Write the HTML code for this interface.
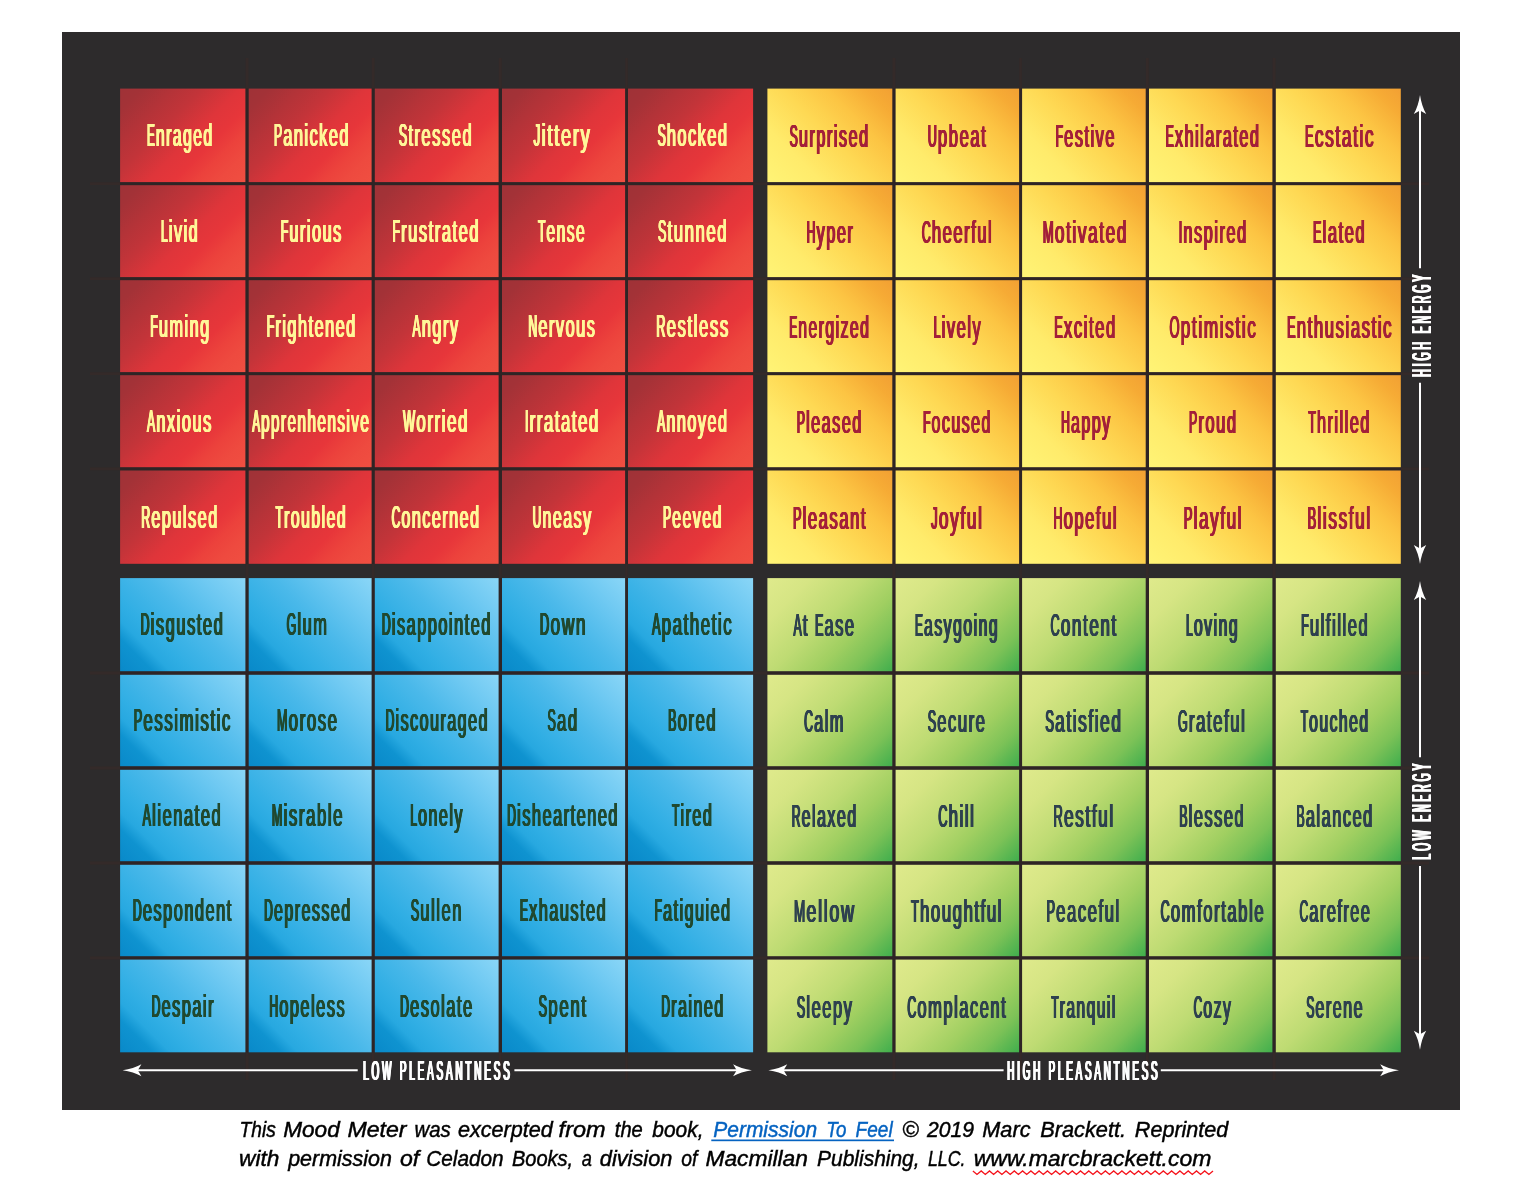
<!DOCTYPE html>
<html lang="en"><head><meta charset="utf-8"><title>Mood Meter</title>
<style>
html,body{margin:0;padding:0;background:#fff;}
body{width:1530px;height:1196px;position:relative;overflow:hidden;font-family:"Liberation Sans",sans-serif;}
svg{position:absolute;left:0;top:0;display:block;will-change:transform;}
text{font-family:"Liberation Sans",sans-serif;}
.cap{position:absolute;left:0;top:0;white-space:nowrap;font-style:italic;color:#000;will-change:transform;transform-origin:0 0;font-family:"Liberation Sans",sans-serif;-webkit-text-stroke:0.3px currentColor;}
.cap a{color:#0563c1;text-decoration:underline;text-underline-offset:3.2px;text-decoration-thickness:1.4px;}
</style></head><body>
<svg width="1530" height="1196" viewBox="0 0 1530 1196">
<defs>
<linearGradient id="gR" gradientUnits="userSpaceOnUse" x1="8" y1="-8" x2="117" y2="101"><stop offset="0" stop-color="#9f3237"/><stop offset="0.10" stop-color="#a33237"/><stop offset="0.38" stop-color="#c33439"/><stop offset="0.55" stop-color="#df353a"/><stop offset="0.67" stop-color="#e7363a"/><stop offset="0.77" stop-color="#ec423c"/><stop offset="0.87" stop-color="#ee4a3f"/><stop offset="1" stop-color="#f04f41"/></linearGradient>
<linearGradient id="gY" gradientUnits="userSpaceOnUse" x1="8" y1="101" x2="117" y2="-8"><stop offset="0" stop-color="#fff476"/><stop offset="0.25" stop-color="#ffeb6b"/><stop offset="0.5" stop-color="#fed853"/><stop offset="0.7" stop-color="#fcc443"/><stop offset="0.88" stop-color="#f6ab35"/><stop offset="1" stop-color="#f2a033"/></linearGradient>
<linearGradient id="gB" gradientUnits="userSpaceOnUse" x1="8" y1="101" x2="117" y2="-8"><stop offset="0" stop-color="#0989c9"/><stop offset="0.15" stop-color="#0f93d0"/><stop offset="0.23" stop-color="#27a8e0"/><stop offset="0.32" stop-color="#30aee4"/><stop offset="0.55" stop-color="#4bb9ea"/><stop offset="0.8" stop-color="#6fc9f2"/><stop offset="1" stop-color="#8ad6f7"/></linearGradient>
<linearGradient id="gG" gradientUnits="userSpaceOnUse" x1="8" y1="-8" x2="117" y2="101"><stop offset="0" stop-color="#dfea8c"/><stop offset="0.2" stop-color="#d6e584"/><stop offset="0.45" stop-color="#bedb73"/><stop offset="0.65" stop-color="#a0cf61"/><stop offset="0.82" stop-color="#7cc257"/><stop offset="1" stop-color="#40ae4d"/></linearGradient>
</defs>
<rect x="62" y="32" width="1398" height="1078" fill="#2d2b2c"/>
<g fill="#342a29">
<rect x="245.6" y="58" width="2.9" height="1022"/>
<rect x="371.8" y="58" width="2.8" height="1022"/>
<rect x="498.8" y="58" width="3.0" height="1022"/>
<rect x="625.3" y="58" width="2.5" height="1022"/>
<rect x="892.5" y="58" width="2.9" height="1022"/>
<rect x="1019.3" y="58" width="2.6" height="1022"/>
<rect x="1145.9" y="58" width="2.9" height="1022"/>
<rect x="1272.6" y="58" width="3.0" height="1022"/>
<rect x="90" y="182.3" width="1339" height="2.7"/>
<rect x="90" y="277.3" width="1339" height="2.7"/>
<rect x="90" y="372.3" width="1339" height="2.7"/>
<rect x="90" y="467.4" width="1339" height="2.9"/>
<rect x="90" y="671.4" width="1339" height="3.2"/>
<rect x="90" y="766.4" width="1339" height="3.2"/>
<rect x="90" y="861.4" width="1339" height="3.2"/>
<rect x="90" y="956.4" width="1339" height="3.0"/>
</g>
<g fill="#2e2425">
<rect x="245.4" y="88.6" width="3.3" height="475.2"/>
<rect x="120.1" y="182.1" width="633.0" height="3.1"/>
<rect x="371.6" y="88.6" width="3.2" height="475.2"/>
<rect x="120.1" y="277.1" width="633.0" height="3.1"/>
<rect x="498.6" y="88.6" width="3.4" height="475.2"/>
<rect x="120.1" y="372.1" width="633.0" height="3.1"/>
<rect x="625.1" y="88.6" width="2.9" height="475.2"/>
<rect x="120.1" y="467.2" width="633.0" height="3.3"/>
<rect x="245.4" y="578.1" width="3.3" height="474.2"/>
<rect x="120.1" y="671.2" width="633.0" height="3.6"/>
<rect x="371.6" y="578.1" width="3.2" height="474.2"/>
<rect x="120.1" y="766.2" width="633.0" height="3.6"/>
<rect x="498.6" y="578.1" width="3.4" height="474.2"/>
<rect x="120.1" y="861.2" width="633.0" height="3.6"/>
<rect x="625.1" y="578.1" width="2.9" height="474.2"/>
<rect x="120.1" y="956.2" width="633.0" height="3.4"/>
<rect x="892.3" y="88.6" width="3.3" height="475.2"/>
<rect x="767.4" y="182.1" width="633.4" height="3.1"/>
<rect x="1019.1" y="88.6" width="3.0" height="475.2"/>
<rect x="767.4" y="277.1" width="633.4" height="3.1"/>
<rect x="1145.7" y="88.6" width="3.3" height="475.2"/>
<rect x="767.4" y="372.1" width="633.4" height="3.1"/>
<rect x="1272.4" y="88.6" width="3.4" height="475.2"/>
<rect x="767.4" y="467.2" width="633.4" height="3.3"/>
<rect x="892.3" y="578.1" width="3.3" height="474.2"/>
<rect x="767.4" y="671.2" width="633.4" height="3.6"/>
<rect x="1019.1" y="578.1" width="3.0" height="474.2"/>
<rect x="767.4" y="766.2" width="633.4" height="3.6"/>
<rect x="1145.7" y="578.1" width="3.3" height="474.2"/>
<rect x="767.4" y="861.2" width="633.4" height="3.6"/>
<rect x="1272.4" y="578.1" width="3.4" height="474.2"/>
<rect x="767.4" y="956.2" width="633.4" height="3.4"/>
</g>
<g transform="translate(120.1,88.6) scale(1.0024,1.0054)"><rect width="125" height="93" fill="url(#gR)"/></g>
<g transform="translate(248.7,88.6) scale(0.9832,1.0054)"><rect width="125" height="93" fill="url(#gR)"/></g>
<g transform="translate(374.8,88.6) scale(0.9904,1.0054)"><rect width="125" height="93" fill="url(#gR)"/></g>
<g transform="translate(502.0,88.6) scale(0.9848,1.0054)"><rect width="125" height="93" fill="url(#gR)"/></g>
<g transform="translate(628.0,88.6) scale(1.0008,1.0054)"><rect width="125" height="93" fill="url(#gR)"/></g>
<g transform="translate(120.1,185.2) scale(1.0024,0.9882)"><rect width="125" height="93" fill="url(#gR)"/></g>
<g transform="translate(248.7,185.2) scale(0.9832,0.9882)"><rect width="125" height="93" fill="url(#gR)"/></g>
<g transform="translate(374.8,185.2) scale(0.9904,0.9882)"><rect width="125" height="93" fill="url(#gR)"/></g>
<g transform="translate(502.0,185.2) scale(0.9848,0.9882)"><rect width="125" height="93" fill="url(#gR)"/></g>
<g transform="translate(628.0,185.2) scale(1.0008,0.9882)"><rect width="125" height="93" fill="url(#gR)"/></g>
<g transform="translate(120.1,280.2) scale(1.0024,0.9882)"><rect width="125" height="93" fill="url(#gR)"/></g>
<g transform="translate(248.7,280.2) scale(0.9832,0.9882)"><rect width="125" height="93" fill="url(#gR)"/></g>
<g transform="translate(374.8,280.2) scale(0.9904,0.9882)"><rect width="125" height="93" fill="url(#gR)"/></g>
<g transform="translate(502.0,280.2) scale(0.9848,0.9882)"><rect width="125" height="93" fill="url(#gR)"/></g>
<g transform="translate(628.0,280.2) scale(1.0008,0.9882)"><rect width="125" height="93" fill="url(#gR)"/></g>
<g transform="translate(120.1,375.2) scale(1.0024,0.9892)"><rect width="125" height="93" fill="url(#gR)"/></g>
<g transform="translate(248.7,375.2) scale(0.9832,0.9892)"><rect width="125" height="93" fill="url(#gR)"/></g>
<g transform="translate(374.8,375.2) scale(0.9904,0.9892)"><rect width="125" height="93" fill="url(#gR)"/></g>
<g transform="translate(502.0,375.2) scale(0.9848,0.9892)"><rect width="125" height="93" fill="url(#gR)"/></g>
<g transform="translate(628.0,375.2) scale(1.0008,0.9892)"><rect width="125" height="93" fill="url(#gR)"/></g>
<g transform="translate(120.1,470.5) scale(1.0024,1.0032)"><rect width="125" height="93" fill="url(#gR)"/></g>
<g transform="translate(248.7,470.5) scale(0.9832,1.0032)"><rect width="125" height="93" fill="url(#gR)"/></g>
<g transform="translate(374.8,470.5) scale(0.9904,1.0032)"><rect width="125" height="93" fill="url(#gR)"/></g>
<g transform="translate(502.0,470.5) scale(0.9848,1.0032)"><rect width="125" height="93" fill="url(#gR)"/></g>
<g transform="translate(628.0,470.5) scale(1.0008,1.0032)"><rect width="125" height="93" fill="url(#gR)"/></g>
<g transform="translate(767.4,88.6) scale(0.9992,1.0054)"><rect width="125" height="93" fill="url(#gY)"/></g>
<g transform="translate(895.6,88.6) scale(0.9880,1.0054)"><rect width="125" height="93" fill="url(#gY)"/></g>
<g transform="translate(1022.1,88.6) scale(0.9888,1.0054)"><rect width="125" height="93" fill="url(#gY)"/></g>
<g transform="translate(1149.0,88.6) scale(0.9872,1.0054)"><rect width="125" height="93" fill="url(#gY)"/></g>
<g transform="translate(1275.8,88.6) scale(1.0000,1.0054)"><rect width="125" height="93" fill="url(#gY)"/></g>
<g transform="translate(767.4,185.2) scale(0.9992,0.9882)"><rect width="125" height="93" fill="url(#gY)"/></g>
<g transform="translate(895.6,185.2) scale(0.9880,0.9882)"><rect width="125" height="93" fill="url(#gY)"/></g>
<g transform="translate(1022.1,185.2) scale(0.9888,0.9882)"><rect width="125" height="93" fill="url(#gY)"/></g>
<g transform="translate(1149.0,185.2) scale(0.9872,0.9882)"><rect width="125" height="93" fill="url(#gY)"/></g>
<g transform="translate(1275.8,185.2) scale(1.0000,0.9882)"><rect width="125" height="93" fill="url(#gY)"/></g>
<g transform="translate(767.4,280.2) scale(0.9992,0.9882)"><rect width="125" height="93" fill="url(#gY)"/></g>
<g transform="translate(895.6,280.2) scale(0.9880,0.9882)"><rect width="125" height="93" fill="url(#gY)"/></g>
<g transform="translate(1022.1,280.2) scale(0.9888,0.9882)"><rect width="125" height="93" fill="url(#gY)"/></g>
<g transform="translate(1149.0,280.2) scale(0.9872,0.9882)"><rect width="125" height="93" fill="url(#gY)"/></g>
<g transform="translate(1275.8,280.2) scale(1.0000,0.9882)"><rect width="125" height="93" fill="url(#gY)"/></g>
<g transform="translate(767.4,375.2) scale(0.9992,0.9892)"><rect width="125" height="93" fill="url(#gY)"/></g>
<g transform="translate(895.6,375.2) scale(0.9880,0.9892)"><rect width="125" height="93" fill="url(#gY)"/></g>
<g transform="translate(1022.1,375.2) scale(0.9888,0.9892)"><rect width="125" height="93" fill="url(#gY)"/></g>
<g transform="translate(1149.0,375.2) scale(0.9872,0.9892)"><rect width="125" height="93" fill="url(#gY)"/></g>
<g transform="translate(1275.8,375.2) scale(1.0000,0.9892)"><rect width="125" height="93" fill="url(#gY)"/></g>
<g transform="translate(767.4,470.5) scale(0.9992,1.0032)"><rect width="125" height="93" fill="url(#gY)"/></g>
<g transform="translate(895.6,470.5) scale(0.9880,1.0032)"><rect width="125" height="93" fill="url(#gY)"/></g>
<g transform="translate(1022.1,470.5) scale(0.9888,1.0032)"><rect width="125" height="93" fill="url(#gY)"/></g>
<g transform="translate(1149.0,470.5) scale(0.9872,1.0032)"><rect width="125" height="93" fill="url(#gY)"/></g>
<g transform="translate(1275.8,470.5) scale(1.0000,1.0032)"><rect width="125" height="93" fill="url(#gY)"/></g>
<g transform="translate(120.1,578.1) scale(1.0024,1.0011)"><rect width="125" height="93" fill="url(#gB)"/></g>
<g transform="translate(248.7,578.1) scale(0.9832,1.0011)"><rect width="125" height="93" fill="url(#gB)"/></g>
<g transform="translate(374.8,578.1) scale(0.9904,1.0011)"><rect width="125" height="93" fill="url(#gB)"/></g>
<g transform="translate(502.0,578.1) scale(0.9848,1.0011)"><rect width="125" height="93" fill="url(#gB)"/></g>
<g transform="translate(628.0,578.1) scale(1.0008,1.0011)"><rect width="125" height="93" fill="url(#gB)"/></g>
<g transform="translate(120.1,674.8) scale(1.0024,0.9828)"><rect width="125" height="93" fill="url(#gB)"/></g>
<g transform="translate(248.7,674.8) scale(0.9832,0.9828)"><rect width="125" height="93" fill="url(#gB)"/></g>
<g transform="translate(374.8,674.8) scale(0.9904,0.9828)"><rect width="125" height="93" fill="url(#gB)"/></g>
<g transform="translate(502.0,674.8) scale(0.9848,0.9828)"><rect width="125" height="93" fill="url(#gB)"/></g>
<g transform="translate(628.0,674.8) scale(1.0008,0.9828)"><rect width="125" height="93" fill="url(#gB)"/></g>
<g transform="translate(120.1,769.8) scale(1.0024,0.9828)"><rect width="125" height="93" fill="url(#gB)"/></g>
<g transform="translate(248.7,769.8) scale(0.9832,0.9828)"><rect width="125" height="93" fill="url(#gB)"/></g>
<g transform="translate(374.8,769.8) scale(0.9904,0.9828)"><rect width="125" height="93" fill="url(#gB)"/></g>
<g transform="translate(502.0,769.8) scale(0.9848,0.9828)"><rect width="125" height="93" fill="url(#gB)"/></g>
<g transform="translate(628.0,769.8) scale(1.0008,0.9828)"><rect width="125" height="93" fill="url(#gB)"/></g>
<g transform="translate(120.1,864.8) scale(1.0024,0.9828)"><rect width="125" height="93" fill="url(#gB)"/></g>
<g transform="translate(248.7,864.8) scale(0.9832,0.9828)"><rect width="125" height="93" fill="url(#gB)"/></g>
<g transform="translate(374.8,864.8) scale(0.9904,0.9828)"><rect width="125" height="93" fill="url(#gB)"/></g>
<g transform="translate(502.0,864.8) scale(0.9848,0.9828)"><rect width="125" height="93" fill="url(#gB)"/></g>
<g transform="translate(628.0,864.8) scale(1.0008,0.9828)"><rect width="125" height="93" fill="url(#gB)"/></g>
<g transform="translate(120.1,959.6) scale(1.0024,0.9968)"><rect width="125" height="93" fill="url(#gB)"/></g>
<g transform="translate(248.7,959.6) scale(0.9832,0.9968)"><rect width="125" height="93" fill="url(#gB)"/></g>
<g transform="translate(374.8,959.6) scale(0.9904,0.9968)"><rect width="125" height="93" fill="url(#gB)"/></g>
<g transform="translate(502.0,959.6) scale(0.9848,0.9968)"><rect width="125" height="93" fill="url(#gB)"/></g>
<g transform="translate(628.0,959.6) scale(1.0008,0.9968)"><rect width="125" height="93" fill="url(#gB)"/></g>
<g transform="translate(767.4,578.1) scale(0.9992,1.0011)"><rect width="125" height="93" fill="url(#gG)"/></g>
<g transform="translate(895.6,578.1) scale(0.9880,1.0011)"><rect width="125" height="93" fill="url(#gG)"/></g>
<g transform="translate(1022.1,578.1) scale(0.9888,1.0011)"><rect width="125" height="93" fill="url(#gG)"/></g>
<g transform="translate(1149.0,578.1) scale(0.9872,1.0011)"><rect width="125" height="93" fill="url(#gG)"/></g>
<g transform="translate(1275.8,578.1) scale(1.0000,1.0011)"><rect width="125" height="93" fill="url(#gG)"/></g>
<g transform="translate(767.4,674.8) scale(0.9992,0.9828)"><rect width="125" height="93" fill="url(#gG)"/></g>
<g transform="translate(895.6,674.8) scale(0.9880,0.9828)"><rect width="125" height="93" fill="url(#gG)"/></g>
<g transform="translate(1022.1,674.8) scale(0.9888,0.9828)"><rect width="125" height="93" fill="url(#gG)"/></g>
<g transform="translate(1149.0,674.8) scale(0.9872,0.9828)"><rect width="125" height="93" fill="url(#gG)"/></g>
<g transform="translate(1275.8,674.8) scale(1.0000,0.9828)"><rect width="125" height="93" fill="url(#gG)"/></g>
<g transform="translate(767.4,769.8) scale(0.9992,0.9828)"><rect width="125" height="93" fill="url(#gG)"/></g>
<g transform="translate(895.6,769.8) scale(0.9880,0.9828)"><rect width="125" height="93" fill="url(#gG)"/></g>
<g transform="translate(1022.1,769.8) scale(0.9888,0.9828)"><rect width="125" height="93" fill="url(#gG)"/></g>
<g transform="translate(1149.0,769.8) scale(0.9872,0.9828)"><rect width="125" height="93" fill="url(#gG)"/></g>
<g transform="translate(1275.8,769.8) scale(1.0000,0.9828)"><rect width="125" height="93" fill="url(#gG)"/></g>
<g transform="translate(767.4,864.8) scale(0.9992,0.9828)"><rect width="125" height="93" fill="url(#gG)"/></g>
<g transform="translate(895.6,864.8) scale(0.9880,0.9828)"><rect width="125" height="93" fill="url(#gG)"/></g>
<g transform="translate(1022.1,864.8) scale(0.9888,0.9828)"><rect width="125" height="93" fill="url(#gG)"/></g>
<g transform="translate(1149.0,864.8) scale(0.9872,0.9828)"><rect width="125" height="93" fill="url(#gG)"/></g>
<g transform="translate(1275.8,864.8) scale(1.0000,0.9828)"><rect width="125" height="93" fill="url(#gG)"/></g>
<g transform="translate(767.4,959.6) scale(0.9992,0.9968)"><rect width="125" height="93" fill="url(#gG)"/></g>
<g transform="translate(895.6,959.6) scale(0.9880,0.9968)"><rect width="125" height="93" fill="url(#gG)"/></g>
<g transform="translate(1022.1,959.6) scale(0.9888,0.9968)"><rect width="125" height="93" fill="url(#gG)"/></g>
<g transform="translate(1149.0,959.6) scale(0.9872,0.9968)"><rect width="125" height="93" fill="url(#gG)"/></g>
<g transform="translate(1275.8,959.6) scale(1.0000,0.9968)"><rect width="125" height="93" fill="url(#gG)"/></g>
<g id="wd" font-size="32.0" letter-spacing="3.0" style="font-weight:normal;font-kerning:none;white-space:pre">
<text transform="translate(147.00,145.80) scale(0.3680,1)" fill="#fff799">E</text>
<text transform="translate(155.96,145.80) scale(0.4906,1)" fill="#fff799">nraged</text>
<text transform="translate(274.00,145.80) scale(0.3813,1)" fill="#fff799">P</text>
<text transform="translate(283.28,145.80) scale(0.5083,1)" fill="#fff799">anicked</text>
<text transform="translate(398.90,145.80) scale(0.3867,1)" fill="#fff799">S</text>
<text transform="translate(408.31,145.80) scale(0.5156,1)" fill="#fff799">tressed</text>
<text transform="translate(533.50,145.80) scale(0.4283,1)" fill="#fff799">J</text>
<text transform="translate(541.64,145.80) scale(0.5710,1)" fill="#fff799">ittery</text>
<text transform="translate(657.60,145.80) scale(0.3815,1)" fill="#fff799">S</text>
<text transform="translate(666.89,145.80) scale(0.5086,1)" fill="#fff799">hocked</text>
<text transform="translate(161.00,241.50) scale(0.3791,1)" fill="#fff799">L</text>
<text transform="translate(168.88,241.50) scale(0.5054,1)" fill="#fff799">ivid</text>
<text transform="translate(280.80,241.50) scale(0.3811,1)" fill="#fff799">F</text>
<text transform="translate(289.39,241.50) scale(0.5081,1)" fill="#fff799">urious</text>
<text transform="translate(392.50,241.50) scale(0.3858,1)" fill="#fff799">F</text>
<text transform="translate(401.20,241.50) scale(0.5144,1)" fill="#fff799">rustrated</text>
<text transform="translate(538.20,241.50) scale(0.3659,1)" fill="#fff799">T</text>
<text transform="translate(546.45,241.50) scale(0.4879,1)" fill="#fff799">ense</text>
<text transform="translate(658.00,241.50) scale(0.3924,1)" fill="#fff799">S</text>
<text transform="translate(667.55,241.50) scale(0.5231,1)" fill="#fff799">tunned</text>
<text transform="translate(150.40,337.10) scale(0.3800,1)" fill="#fff799">F</text>
<text transform="translate(158.97,337.10) scale(0.5066,1)" fill="#fff799">uming</text>
<text transform="translate(266.80,337.10) scale(0.3807,1)" fill="#fff799">F</text>
<text transform="translate(275.38,337.10) scale(0.5076,1)" fill="#fff799">rightened</text>
<text transform="translate(412.50,337.10) scale(0.3821,1)" fill="#fff799">A</text>
<text transform="translate(421.80,337.10) scale(0.5095,1)" fill="#fff799">ngry</text>
<text transform="translate(528.40,337.10) scale(0.3818,1)" fill="#fff799">N</text>
<text transform="translate(538.37,337.10) scale(0.5091,1)" fill="#fff799">ervous</text>
<text transform="translate(656.30,337.10) scale(0.3937,1)" fill="#fff799">R</text>
<text transform="translate(666.58,337.10) scale(0.5249,1)" fill="#fff799">estless</text>
<text transform="translate(147.00,432.10) scale(0.3835,1)" fill="#fff799">A</text>
<text transform="translate(156.34,432.10) scale(0.5113,1)" fill="#fff799">nxious</text>
<text transform="translate(252.30,432.10) scale(0.3593,1)" fill="#fff799">A</text>
<text transform="translate(261.05,432.10) scale(0.4790,1)" fill="#fff799">pprenhensive</text>
<text transform="translate(403.10,432.10) scale(0.3968,1)" fill="#fff799">W</text>
<text transform="translate(416.28,432.10) scale(0.5291,1)" fill="#fff799">orried</text>
<text transform="translate(525.00,432.10) scale(0.3921,1)" fill="#fff799">I</text>
<text transform="translate(529.66,432.10) scale(0.5228,1)" fill="#fff799">rratated</text>
<text transform="translate(657.20,432.10) scale(0.3787,1)" fill="#fff799">A</text>
<text transform="translate(666.42,432.10) scale(0.5049,1)" fill="#fff799">nnoyed</text>
<text transform="translate(141.40,527.60) scale(0.3803,1)" fill="#fff799">R</text>
<text transform="translate(151.33,527.60) scale(0.5071,1)" fill="#fff799">epulsed</text>
<text transform="translate(275.70,527.60) scale(0.3701,1)" fill="#fff799">T</text>
<text transform="translate(284.04,527.60) scale(0.4934,1)" fill="#fff799">roubled</text>
<text transform="translate(391.60,527.60) scale(0.3767,1)" fill="#fff799">C</text>
<text transform="translate(401.43,527.60) scale(0.5022,1)" fill="#fff799">oncerned</text>
<text transform="translate(532.70,527.60) scale(0.3744,1)" fill="#fff799">U</text>
<text transform="translate(542.48,527.60) scale(0.4993,1)" fill="#fff799">neasy</text>
<text transform="translate(663.10,527.60) scale(0.3729,1)" fill="#fff799">P</text>
<text transform="translate(672.18,527.60) scale(0.4973,1)" fill="#fff799">eeved</text>
<text transform="translate(789.70,146.80) scale(0.3797,1)" fill="#a3203a">S</text>
<text transform="translate(798.94,146.80) scale(0.5062,1)" fill="#a3203a">urprised</text>
<text transform="translate(927.80,146.80) scale(0.3896,1)" fill="#a3203a">U</text>
<text transform="translate(937.97,146.80) scale(0.5194,1)" fill="#a3203a">pbeat</text>
<text transform="translate(1055.60,146.80) scale(0.3825,1)" fill="#a3203a">F</text>
<text transform="translate(1064.22,146.80) scale(0.5099,1)" fill="#a3203a">estive</text>
<text transform="translate(1165.70,146.80) scale(0.3799,1)" fill="#a3203a">E</text>
<text transform="translate(1174.95,146.80) scale(0.5065,1)" fill="#a3203a">xhilarated</text>
<text transform="translate(1305.00,146.80) scale(0.4053,1)" fill="#a3203a">E</text>
<text transform="translate(1314.87,146.80) scale(0.5404,1)" fill="#a3203a">cstatic</text>
<text transform="translate(806.70,242.50) scale(0.3806,1)" fill="#a3203a">H</text>
<text transform="translate(816.64,242.50) scale(0.5075,1)" fill="#a3203a">yper</text>
<text transform="translate(921.80,242.50) scale(0.3871,1)" fill="#a3203a">C</text>
<text transform="translate(931.91,242.50) scale(0.5161,1)" fill="#a3203a">heerful</text>
<text transform="translate(1042.90,242.50) scale(0.4032,1)" fill="#a3203a">M</text>
<text transform="translate(1054.86,242.50) scale(0.5376,1)" fill="#a3203a">otivated</text>
<text transform="translate(1178.80,242.50) scale(0.3833,1)" fill="#a3203a">I</text>
<text transform="translate(1183.36,242.50) scale(0.5111,1)" fill="#a3203a">nspired</text>
<text transform="translate(1313.10,242.50) scale(0.3884,1)" fill="#a3203a">E</text>
<text transform="translate(1322.55,242.50) scale(0.5178,1)" fill="#a3203a">lated</text>
<text transform="translate(789.30,338.10) scale(0.3685,1)" fill="#a3203a">E</text>
<text transform="translate(798.27,338.10) scale(0.4913,1)" fill="#a3203a">nergized</text>
<text transform="translate(933.70,338.10) scale(0.3848,1)" fill="#a3203a">L</text>
<text transform="translate(941.70,338.10) scale(0.5130,1)" fill="#a3203a">ively</text>
<text transform="translate(1054.40,338.10) scale(0.3909,1)" fill="#a3203a">E</text>
<text transform="translate(1063.92,338.10) scale(0.5212,1)" fill="#a3203a">xcited</text>
<text transform="translate(1169.50,338.10) scale(0.4038,1)" fill="#a3203a">O</text>
<text transform="translate(1180.76,338.10) scale(0.5384,1)" fill="#a3203a">ptimistic</text>
<text transform="translate(1287.20,338.10) scale(0.3922,1)" fill="#a3203a">E</text>
<text transform="translate(1296.75,338.10) scale(0.5230,1)" fill="#a3203a">nthusiastic</text>
<text transform="translate(796.90,433.10) scale(0.3787,1)" fill="#a3203a">P</text>
<text transform="translate(806.12,433.10) scale(0.5049,1)" fill="#a3203a">leased</text>
<text transform="translate(923.10,433.10) scale(0.3736,1)" fill="#a3203a">F</text>
<text transform="translate(931.52,433.10) scale(0.4982,1)" fill="#a3203a">ocused</text>
<text transform="translate(1061.20,433.10) scale(0.3751,1)" fill="#a3203a">H</text>
<text transform="translate(1070.99,433.10) scale(0.5001,1)" fill="#a3203a">appy</text>
<text transform="translate(1189.00,433.10) scale(0.3861,1)" fill="#a3203a">P</text>
<text transform="translate(1198.40,433.10) scale(0.5148,1)" fill="#a3203a">roud</text>
<text transform="translate(1308.40,433.10) scale(0.3803,1)" fill="#a3203a">T</text>
<text transform="translate(1316.98,433.10) scale(0.5071,1)" fill="#a3203a">hrilled</text>
<text transform="translate(793.10,528.60) scale(0.3899,1)" fill="#a3203a">P</text>
<text transform="translate(802.59,528.60) scale(0.5199,1)" fill="#a3203a">leasant</text>
<text transform="translate(931.20,528.60) scale(0.4052,1)" fill="#a3203a">J</text>
<text transform="translate(938.90,528.60) scale(0.5403,1)" fill="#a3203a">oyful</text>
<text transform="translate(1053.50,528.60) scale(0.3886,1)" fill="#a3203a">H</text>
<text transform="translate(1063.65,528.60) scale(0.5182,1)" fill="#a3203a">opeful</text>
<text transform="translate(1183.90,528.60) scale(0.4001,1)" fill="#a3203a">P</text>
<text transform="translate(1193.64,528.60) scale(0.5335,1)" fill="#a3203a">layful</text>
<text transform="translate(1307.60,528.60) scale(0.4038,1)" fill="#a3203a">B</text>
<text transform="translate(1317.43,528.60) scale(0.5384,1)" fill="#a3203a">lissful</text>
<text transform="translate(140.60,634.80) scale(0.3859,1)" fill="#21492f">D</text>
<text transform="translate(150.67,634.80) scale(0.5145,1)" fill="#21492f">isgusted</text>
<text transform="translate(286.70,634.80) scale(0.3842,1)" fill="#21492f">G</text>
<text transform="translate(297.41,634.80) scale(0.5122,1)" fill="#21492f">lum</text>
<text transform="translate(381.90,634.80) scale(0.3816,1)" fill="#21492f">D</text>
<text transform="translate(391.86,634.80) scale(0.5087,1)" fill="#21492f">isappointed</text>
<text transform="translate(539.90,634.80) scale(0.4067,1)" fill="#21492f">D</text>
<text transform="translate(550.52,634.80) scale(0.5422,1)" fill="#21492f">own</text>
<text transform="translate(652.10,634.80) scale(0.3945,1)" fill="#21492f">A</text>
<text transform="translate(661.70,634.80) scale(0.5260,1)" fill="#21492f">pathetic</text>
<text transform="translate(133.80,730.50) scale(0.3939,1)" fill="#21492f">P</text>
<text transform="translate(143.39,730.50) scale(0.5252,1)" fill="#21492f">essimistic</text>
<text transform="translate(277.00,730.50) scale(0.3944,1)" fill="#21492f">M</text>
<text transform="translate(288.70,730.50) scale(0.5259,1)" fill="#21492f">orose</text>
<text transform="translate(385.70,730.50) scale(0.3759,1)" fill="#21492f">D</text>
<text transform="translate(395.51,730.50) scale(0.5012,1)" fill="#21492f">iscouraged</text>
<text transform="translate(547.50,730.50) scale(0.3905,1)" fill="#21492f">S</text>
<text transform="translate(557.01,730.50) scale(0.5207,1)" fill="#21492f">ad</text>
<text transform="translate(668.20,730.50) scale(0.3894,1)" fill="#21492f">B</text>
<text transform="translate(677.68,730.50) scale(0.5191,1)" fill="#21492f">ored</text>
<text transform="translate(142.70,826.00) scale(0.3865,1)" fill="#21492f">A</text>
<text transform="translate(152.11,826.00) scale(0.5154,1)" fill="#21492f">lienated</text>
<text transform="translate(271.90,826.00) scale(0.3942,1)" fill="#21492f">M</text>
<text transform="translate(283.59,826.00) scale(0.5256,1)" fill="#21492f">israble</text>
<text transform="translate(410.30,826.00) scale(0.3754,1)" fill="#21492f">L</text>
<text transform="translate(418.11,826.00) scale(0.5005,1)" fill="#21492f">onely</text>
<text transform="translate(507.20,826.00) scale(0.3815,1)" fill="#21492f">D</text>
<text transform="translate(517.16,826.00) scale(0.5087,1)" fill="#21492f">isheartened</text>
<text transform="translate(672.00,826.00) scale(0.3766,1)" fill="#21492f">T</text>
<text transform="translate(680.49,826.00) scale(0.5021,1)" fill="#21492f">ired</text>
<text transform="translate(132.90,921.30) scale(0.3823,1)" fill="#21492f">D</text>
<text transform="translate(142.88,921.30) scale(0.5097,1)" fill="#21492f">espondent</text>
<text transform="translate(264.20,921.30) scale(0.3745,1)" fill="#21492f">D</text>
<text transform="translate(273.98,921.30) scale(0.4994,1)" fill="#21492f">epressed</text>
<text transform="translate(410.80,921.30) scale(0.3885,1)" fill="#21492f">S</text>
<text transform="translate(420.26,921.30) scale(0.5180,1)" fill="#21492f">ullen</text>
<text transform="translate(519.90,921.30) scale(0.3800,1)" fill="#21492f">E</text>
<text transform="translate(529.15,921.30) scale(0.5067,1)" fill="#21492f">xhausted</text>
<text transform="translate(654.60,921.30) scale(0.3770,1)" fill="#21492f">F</text>
<text transform="translate(663.10,921.30) scale(0.5027,1)" fill="#21492f">atiguied</text>
<text transform="translate(151.60,1016.80) scale(0.3814,1)" fill="#21492f">D</text>
<text transform="translate(161.56,1016.80) scale(0.5085,1)" fill="#21492f">espair</text>
<text transform="translate(269.30,1016.80) scale(0.3824,1)" fill="#21492f">H</text>
<text transform="translate(279.28,1016.80) scale(0.5099,1)" fill="#21492f">opeless</text>
<text transform="translate(400.10,1016.80) scale(0.3841,1)" fill="#21492f">D</text>
<text transform="translate(410.13,1016.80) scale(0.5122,1)" fill="#21492f">esolate</text>
<text transform="translate(538.60,1016.80) scale(0.3970,1)" fill="#21492f">S</text>
<text transform="translate(548.27,1016.80) scale(0.5294,1)" fill="#21492f">pent</text>
<text transform="translate(661.40,1016.80) scale(0.3752,1)" fill="#21492f">D</text>
<text transform="translate(671.20,1016.80) scale(0.5003,1)" fill="#21492f">rained</text>
<text transform="translate(793.50,635.80) scale(0.3855,1)" fill="#2e414f">A</text>
<text transform="translate(802.89,635.80) scale(0.5140,1)" fill="#2e414f">t </text>
<text transform="translate(815.11,635.80) scale(0.3855,1)" fill="#2e414f">E</text>
<text transform="translate(824.49,635.80) scale(0.5140,1)" fill="#2e414f">ase</text>
<text transform="translate(915.00,635.80) scale(0.3706,1)" fill="#2e414f">E</text>
<text transform="translate(924.02,635.80) scale(0.4942,1)" fill="#2e414f">asygoing</text>
<text transform="translate(1050.50,635.80) scale(0.3988,1)" fill="#2e414f">C</text>
<text transform="translate(1060.91,635.80) scale(0.5318,1)" fill="#2e414f">ontent</text>
<text transform="translate(1186.10,635.80) scale(0.3718,1)" fill="#2e414f">L</text>
<text transform="translate(1193.83,635.80) scale(0.4957,1)" fill="#2e414f">oving</text>
<text transform="translate(1301.20,635.80) scale(0.3877,1)" fill="#2e414f">F</text>
<text transform="translate(1309.94,635.80) scale(0.5170,1)" fill="#2e414f">ulfilled</text>
<text transform="translate(804.20,731.50) scale(0.3821,1)" fill="#2e414f">C</text>
<text transform="translate(814.18,731.50) scale(0.5094,1)" fill="#2e414f">alm</text>
<text transform="translate(927.80,731.50) scale(0.3882,1)" fill="#2e414f">S</text>
<text transform="translate(937.25,731.50) scale(0.5177,1)" fill="#2e414f">ecure</text>
<text transform="translate(1045.40,731.50) scale(0.4026,1)" fill="#2e414f">S</text>
<text transform="translate(1055.20,731.50) scale(0.5368,1)" fill="#2e414f">atisfied</text>
<text transform="translate(1178.00,731.50) scale(0.3924,1)" fill="#2e414f">G</text>
<text transform="translate(1188.95,731.50) scale(0.5232,1)" fill="#2e414f">rateful</text>
<text transform="translate(1300.80,731.50) scale(0.3687,1)" fill="#2e414f">T</text>
<text transform="translate(1309.11,731.50) scale(0.4916,1)" fill="#2e414f">ouched</text>
<text transform="translate(791.80,827.00) scale(0.3748,1)" fill="#2e414f">R</text>
<text transform="translate(801.59,827.00) scale(0.4997,1)" fill="#2e414f">elaxed</text>
<text transform="translate(938.40,827.00) scale(0.3932,1)" fill="#2e414f">C</text>
<text transform="translate(948.67,827.00) scale(0.5243,1)" fill="#2e414f">hill</text>
<text transform="translate(1053.50,827.00) scale(0.4031,1)" fill="#2e414f">R</text>
<text transform="translate(1064.03,827.00) scale(0.5375,1)" fill="#2e414f">estful</text>
<text transform="translate(1179.30,827.00) scale(0.3835,1)" fill="#2e414f">B</text>
<text transform="translate(1188.64,827.00) scale(0.5113,1)" fill="#2e414f">lessed</text>
<text transform="translate(1296.50,827.00) scale(0.3832,1)" fill="#2e414f">B</text>
<text transform="translate(1305.83,827.00) scale(0.5109,1)" fill="#2e414f">alanced</text>
<text transform="translate(794.00,922.30) scale(0.4203,1)" fill="#2e414f">M</text>
<text transform="translate(806.46,922.30) scale(0.5604,1)" fill="#2e414f">ellow</text>
<text transform="translate(911.20,922.30) scale(0.3924,1)" fill="#2e414f">T</text>
<text transform="translate(920.05,922.30) scale(0.5232,1)" fill="#2e414f">houghtful</text>
<text transform="translate(1046.70,922.30) scale(0.3899,1)" fill="#2e414f">P</text>
<text transform="translate(1056.19,922.30) scale(0.5199,1)" fill="#2e414f">eaceful</text>
<text transform="translate(1160.60,922.30) scale(0.3906,1)" fill="#2e414f">C</text>
<text transform="translate(1170.80,922.30) scale(0.5208,1)" fill="#2e414f">omfortable</text>
<text transform="translate(1299.50,922.30) scale(0.3794,1)" fill="#2e414f">C</text>
<text transform="translate(1309.41,922.30) scale(0.5059,1)" fill="#2e414f">arefree</text>
<text transform="translate(796.90,1017.80) scale(0.3871,1)" fill="#2e414f">S</text>
<text transform="translate(806.32,1017.80) scale(0.5161,1)" fill="#2e414f">leepy</text>
<text transform="translate(907.40,1017.80) scale(0.3855,1)" fill="#2e414f">C</text>
<text transform="translate(917.47,1017.80) scale(0.5141,1)" fill="#2e414f">omplacent</text>
<text transform="translate(1051.40,1017.80) scale(0.3659,1)" fill="#2e414f">T</text>
<text transform="translate(1059.65,1017.80) scale(0.4879,1)" fill="#2e414f">ranquil</text>
<text transform="translate(1193.70,1017.80) scale(0.3701,1)" fill="#2e414f">C</text>
<text transform="translate(1203.36,1017.80) scale(0.4935,1)" fill="#2e414f">ozy</text>
<text transform="translate(1306.30,1017.80) scale(0.3767,1)" fill="#2e414f">S</text>
<text transform="translate(1315.47,1017.80) scale(0.5022,1)" fill="#2e414f">erene</text>
</g>
<use href="#wd" x="0.6"/><use href="#wd" x="-0.6"/><use href="#wd" x="0.3"/><use href="#wd" x="-0.3"/>
<g stroke="#ffffff" stroke-width="2.0" fill="none">
<line x1="137" y1="1070.2" x2="357.7" y2="1070.2"/>
<line x1="514.4" y1="1070.2" x2="738" y2="1070.2"/>
<line x1="783" y1="1070.2" x2="1003.6" y2="1070.2"/>
<line x1="1160.8" y1="1070.2" x2="1384" y2="1070.2"/>
<line x1="1420.0" y1="110" x2="1420.0" y2="268.2"/>
<line x1="1420.0" y1="382.8" x2="1420.0" y2="549"/>
<line x1="1420.0" y1="596" x2="1420.0" y2="757.2"/>
<line x1="1420.0" y1="865.9" x2="1420.0" y2="1035"/>
</g>
<path d="M122.6,1070.2 Q133.6,1068.6 141.4,1064.2 L137.8,1070.2 L141.4,1076.2 Q133.6,1071.8 122.6,1070.2 Z" fill="#ffffff"/>
<path d="M751.9,1070.2 Q740.9,1068.6 733.1,1064.2 L736.7,1070.2 L733.1,1076.2 Q740.9,1071.8 751.9,1070.2 Z" fill="#ffffff"/>
<path d="M768.4,1070.2 Q779.4,1068.6 787.2,1064.2 L783.6,1070.2 L787.2,1076.2 Q779.4,1071.8 768.4,1070.2 Z" fill="#ffffff"/>
<path d="M1399.0,1070.2 Q1388.0,1068.6 1380.2,1064.2 L1383.8,1070.2 L1380.2,1076.2 Q1388.0,1071.8 1399.0,1070.2 Z" fill="#ffffff"/>
<path d="M1420.0,95.0 Q1418.4,106.0 1413.8,114.0 L1420.0,110.5 L1426.2,114.0 Q1421.6,106.0 1420.0,95.0 Z" fill="#ffffff"/>
<path d="M1420.0,564.1 Q1418.4,553.1 1413.8,545.1 L1420.0,548.6 L1426.2,545.1 Q1421.6,553.1 1420.0,564.1 Z" fill="#ffffff"/>
<path d="M1420.0,581.1 Q1418.4,592.1 1413.8,600.1 L1420.0,596.6 L1426.2,600.1 Q1421.6,592.1 1420.0,581.1 Z" fill="#ffffff"/>
<path d="M1420.0,1049.8 Q1418.4,1038.8 1413.8,1030.8 L1420.0,1034.3 L1426.2,1030.8 Q1421.6,1038.8 1420.0,1049.8 Z" fill="#ffffff"/>
<g font-size="27.6" letter-spacing="8.0" fill="#ffffff" style="font-weight:normal;font-kerning:none;white-space:pre">
<text transform="translate(362.50,1079.90) scale(0.3577,1)">LOW PLEASANTNESS</text>
<text transform="translate(362.85,1079.90) scale(0.3577,1)">LOW PLEASANTNESS</text>
<text transform="translate(363.20,1079.90) scale(0.3577,1)">LOW PLEASANTNESS</text>
<text transform="translate(363.55,1079.90) scale(0.3577,1)">LOW PLEASANTNESS</text>
<text transform="translate(363.90,1079.90) scale(0.3577,1)">LOW PLEASANTNESS</text>
<text transform="translate(1006.60,1079.90) scale(0.3547,1)">HIGH PLEASANTNESS</text>
<text transform="translate(1006.95,1079.90) scale(0.3547,1)">HIGH PLEASANTNESS</text>
<text transform="translate(1007.30,1079.90) scale(0.3547,1)">HIGH PLEASANTNESS</text>
<text transform="translate(1007.65,1079.90) scale(0.3547,1)">HIGH PLEASANTNESS</text>
<text transform="translate(1008.00,1079.90) scale(0.3547,1)">HIGH PLEASANTNESS</text>
<text transform="translate(1430.70,376.00) rotate(-90) scale(0.3730,1)">HIGH ENERGY</text>
<text transform="translate(1430.70,376.35) rotate(-90) scale(0.3730,1)">HIGH ENERGY</text>
<text transform="translate(1430.70,376.70) rotate(-90) scale(0.3730,1)">HIGH ENERGY</text>
<text transform="translate(1430.70,377.05) rotate(-90) scale(0.3730,1)">HIGH ENERGY</text>
<text transform="translate(1430.70,377.40) rotate(-90) scale(0.3730,1)">HIGH ENERGY</text>
<text transform="translate(1430.70,858.80) rotate(-90) scale(0.3701,1)">LOW ENERGY</text>
<text transform="translate(1430.70,859.15) rotate(-90) scale(0.3701,1)">LOW ENERGY</text>
<text transform="translate(1430.70,859.50) rotate(-90) scale(0.3701,1)">LOW ENERGY</text>
<text transform="translate(1430.70,859.85) rotate(-90) scale(0.3701,1)">LOW ENERGY</text>
<text transform="translate(1430.70,860.20) rotate(-90) scale(0.3701,1)">LOW ENERGY</text>
</g>
<polyline points="972.9,1170.9 977.0,1174.4 981.2,1170.9 985.3,1174.4 989.5,1170.9 993.6,1174.4 997.7,1170.9 1001.9,1174.4 1006.0,1170.9 1010.2,1174.4 1014.3,1170.9 1018.4,1174.4 1022.6,1170.9 1026.7,1174.4 1030.9,1170.9 1035.0,1174.4 1039.1,1170.9 1043.3,1174.4 1047.4,1170.9 1051.6,1174.4 1055.7,1170.9 1059.8,1174.4 1064.0,1170.9 1068.1,1174.4 1072.3,1170.9 1076.4,1174.4 1080.5,1170.9 1084.7,1174.4 1088.8,1170.9 1093.0,1174.4 1097.1,1170.9 1101.2,1174.4 1105.4,1170.9 1109.5,1174.4 1113.7,1170.9 1117.8,1174.4 1121.9,1170.9 1126.1,1174.4 1130.2,1170.9 1134.4,1174.4 1138.5,1170.9 1142.6,1174.4 1146.8,1170.9 1150.9,1174.4 1155.1,1170.9 1159.2,1174.4 1163.3,1170.9 1167.5,1174.4 1171.6,1170.9 1175.8,1174.4 1179.9,1170.9 1184.0,1174.4 1188.2,1170.9 1192.3,1174.4 1196.5,1170.9 1200.6,1174.4 1204.7,1170.9 1208.9,1174.4 1213.0,1170.9" fill="none" stroke="#f5131b" stroke-width="1.3" stroke-linejoin="miter"/>
<g font-size="22.0" style="font-style:italic;font-weight:normal;white-space:pre" stroke-width="0.45">
<text transform="translate(239.60,1136.80) scale(0.8711,1)" fill="#000000" stroke="#000000">This</text>
<text transform="translate(283.20,1136.80) scale(1.0285,1)" fill="#000000" stroke="#000000">Mood</text>
<text transform="translate(347.40,1136.80) scale(1.0530,1)" fill="#000000" stroke="#000000">Meter</text>
<text transform="translate(414.40,1136.80) scale(0.9280,1)" fill="#000000" stroke="#000000">was</text>
<text transform="translate(457.90,1136.80) scale(0.9836,1)" fill="#000000" stroke="#000000">excerpted</text>
<text transform="translate(558.60,1136.80) scale(1.0682,1)" fill="#000000" stroke="#000000">from</text>
<text transform="translate(614.80,1136.80) scale(0.9156,1)" fill="#000000" stroke="#000000">the</text>
<text transform="translate(652.30,1136.80) scale(0.9515,1)" fill="#000000" stroke="#000000">book,</text>
<text transform="translate(713.20,1136.80) scale(0.9549,1)" fill="#0563c1" stroke="#0563c1">Permission</text>
<text transform="translate(826.30,1136.80) scale(0.8499,1)" fill="#0563c1" stroke="#0563c1">To</text>
<text transform="translate(855.60,1136.80) scale(0.8661,1)" fill="#0563c1" stroke="#0563c1">Feel</text>
<text transform="translate(902.20,1136.80) scale(1.0176,1)" fill="#000000" stroke="#000000">©</text>
<text transform="translate(927.03,1136.80) scale(0.9596,1)" fill="#000000" stroke="#000000">2019</text>
<text transform="translate(982.30,1136.80) scale(0.9860,1)" fill="#000000" stroke="#000000">Marc</text>
<text transform="translate(1040.20,1136.80) scale(0.9906,1)" fill="#000000" stroke="#000000">Brackett.</text>
<text transform="translate(1134.80,1136.80) scale(0.9814,1)" fill="#000000" stroke="#000000">Reprinted</text>
<text transform="translate(239.10,1166.40) scale(1.0303,1)" fill="#000000" stroke="#000000">with</text>
<text transform="translate(288.14,1166.40) scale(0.9755,1)" fill="#000000" stroke="#000000">permission</text>
<text transform="translate(400.00,1166.40) scale(1.0512,1)" fill="#000000" stroke="#000000">of</text>
<text transform="translate(426.20,1166.40) scale(0.9457,1)" fill="#000000" stroke="#000000">Celadon</text>
<text transform="translate(511.90,1166.40) scale(0.9115,1)" fill="#000000" stroke="#000000">Books,</text>
<text transform="translate(581.80,1166.40) scale(0.8257,1)" fill="#000000" stroke="#000000">a</text>
<text transform="translate(599.80,1166.40) scale(0.9895,1)" fill="#000000" stroke="#000000">division</text>
<text transform="translate(681.20,1166.40) scale(0.8785,1)" fill="#000000" stroke="#000000">of</text>
<text transform="translate(705.50,1166.40) scale(1.0351,1)" fill="#000000" stroke="#000000">Macmillan</text>
<text transform="translate(817.10,1166.40) scale(0.9524,1)" fill="#000000" stroke="#000000">Publishing,</text>
<text transform="translate(927.90,1166.40) scale(0.8071,1)" fill="#000000" stroke="#000000">LLC.</text>
<text transform="translate(973.70,1166.40) scale(1.0462,1)" fill="#000000" stroke="#000000">www.marcbrackett.com</text>
<rect x="711.3" y="1139.5" width="182.7" height="1.7" fill="#0563c1"/>
</g>
</svg>
</body></html>
